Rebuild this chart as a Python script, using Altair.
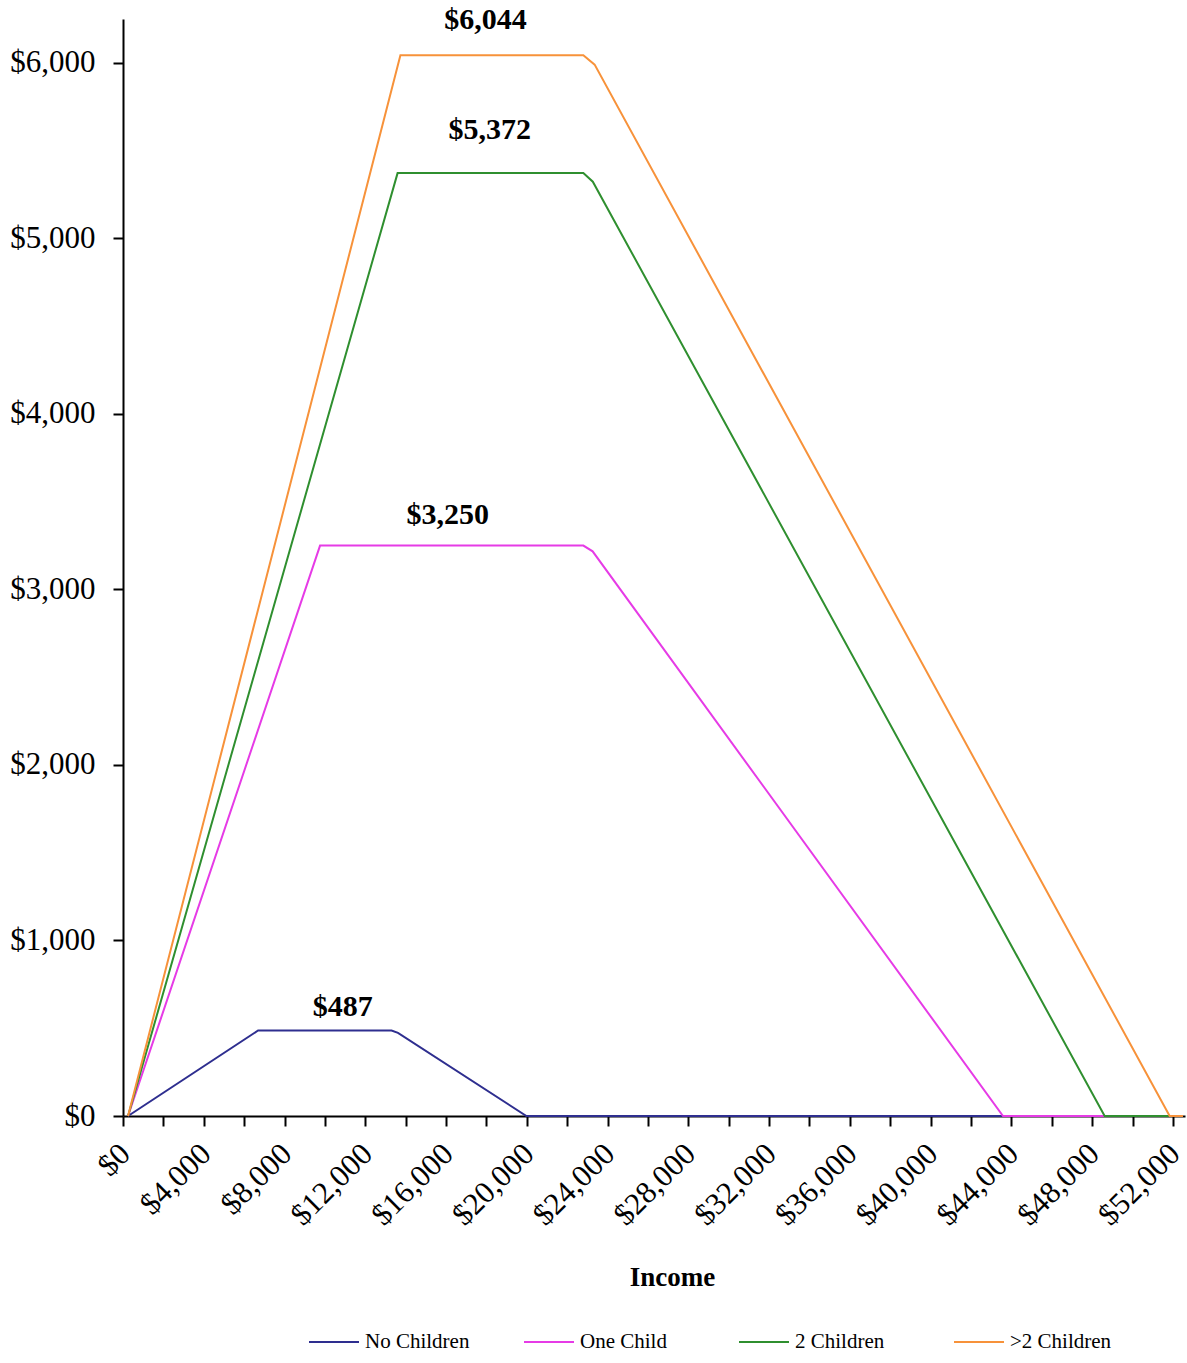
import altair as alt
import pandas as pd

# ---- data ----
series_names = ["No Children", "One Child", "2 Children", ">2 Children"]
series_colors = ["#2e2e8f", "#e63be6", "#2f8f2f", "#f7923a"]

no_children_x = [250, 6690, 13300, 13620, 19980, 52500]
no_children_y = [0, 487, 487, 474, 0, 0]

one_child_x = [250, 9760, 22800, 23260, 43585, 52500]
one_child_y = [0, 3250, 3250, 3217, 0, 0]

two_children_x = [250, 13600, 22800, 23270, 48620, 52500]
two_children_y = [0, 5372, 5372, 5323, 0, 0]

three_children_x = [250, 13740, 22800, 23360, 51840, 52500]
three_children_y = [0, 6044, 6044, 5990, 0, 0]

label_text = ["$6,044", "$5,372", "$3,250", "$487"]
label_x = [17960, 18160, 16080, 10880]
label_y = [6245, 5619, 3426, 619]

x_ticks = list(range(0, 52001, 2000))
y_ticks = [0, 1000, 2000, 3000, 4000, 5000, 6000]

rows = []
for name, xs, ys in zip(series_names,
                        [no_children_x, one_child_x, two_children_x, three_children_x],
                        [no_children_y, one_child_y, two_children_y, three_children_y]):
    for i, (xv, yv) in enumerate(zip(xs, ys)):
        rows.append({"series": name, "income": xv, "credit": yv, "idx": i})
df = pd.DataFrame(rows)
labels_df = pd.DataFrame({"text": label_text, "income": label_x, "credit": label_y})

FONT = "Liberation Serif"

x_scale = alt.Scale(domain=[0, 52600], nice=False, zero=False)
y_scale = alt.Scale(domain=[0, 6250], nice=False)

lines = alt.Chart(df).mark_line(strokeWidth=2).encode(
    x=alt.X("income:Q", scale=x_scale,
            axis=alt.Axis(values=x_ticks, title="Income",
                          labelExpr="datum.value % 4000 == 0 ? format(datum.value, '$,.0f') : ''",
                          labelAngle=-45, labelAlign="right", labelBaseline="middle",
                          labelPadding=23, labelOffset=2, labelFontSize=31, labelFont=FONT,
                          labelColor="black",
                          labelOverlap=False, labelFlush=False,
                          tickSize=10, tickWidth=2, tickColor="black",
                          domainColor="black", domainWidth=2, grid=False,
                          titleFont=FONT, titleFontSize=27, titleFontWeight="bold",
                          titleColor="black", titleX=549, titleY=161,
                          titleBaseline="middle", titleAlign="center")),
    y=alt.Y("credit:Q", scale=y_scale,
            axis=alt.Axis(values=y_ticks, format="$,.0f", title=None,
                          labelFontSize=31, labelFont=FONT, labelColor="black",
                          labelPadding=18, tickSize=10, tickWidth=2, tickColor="black",
                          domainColor="black", domainWidth=2, grid=False)),
    color=alt.Color("series:N",
                    scale=alt.Scale(domain=series_names, range=series_colors),
                    sort=series_names,
                    legend=alt.Legend(title=None, orient="none", direction="horizontal",
                                      columns=4, gridAlign="all", legendX=185, legendY=1297,
                                      symbolType="stroke", symbolSize=2500,
                                      symbolStrokeWidth=2, columnPadding=50,
                                      labelFont=FONT, labelFontSize=21, labelColor="black",
                                      labelOffset=5, labelLimit=300)),
    order="idx:Q",
)

texts = alt.Chart(labels_df).mark_text(
    font=FONT, fontSize=30, fontWeight="bold", color="black",
    align="center", baseline="middle"
).encode(
    x=alt.X("income:Q", scale=x_scale),
    y=alt.Y("credit:Q", scale=y_scale),
    text="text:N",
)

chart = alt.layer(lines, texts).properties(
    width=1062, height=1097,
    autosize=alt.AutoSizeParams(type="none"),
    padding={"left": 123, "top": 19, "right": 2, "bottom": 247},
    background="white",
).configure_view(stroke=None)

chart.save("out.html", embed_options={"renderer": "svg", "actions": False})
